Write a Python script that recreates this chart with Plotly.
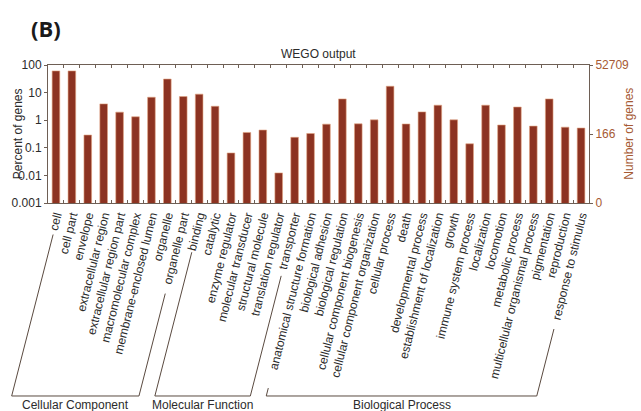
import math
import plotly.graph_objects as go

# GO term categories grouped by ontology
cc_terms = ["cell", "cell part", "envelope", "extracellular region",
            "extracellular region part", "macromolecular complex",
            "membrane-enclosed lumen", "organelle", "organelle part"]
mf_terms = ["binding", "catalytic", "enzyme regulator", "molecular transducer",
            "structural molecule", "translation regulator", "transporter"]
bp_terms = ["anatomical structure formation", "biological adhesion",
            "biological regulation", "cellular component biogenesis",
            "cellular component organization", "cellular process", "death",
            "developmental process", "establishment of localization", "growth",
            "immune system process", "localization", "locomotion",
            "metabolic process", "multicellular organismal process",
            "pigmentation", "reproduction", "response to stimulus"]

# Percent of genes per term
cc_pct = [61, 61, 0.29, 3.9, 1.96, 1.33, 6.8, 31, 7.2]
mf_pct = [8.8, 3.2, 0.065, 0.36, 0.44, 0.0123, 0.24]
bp_pct = [0.33, 0.72, 5.9, 0.74, 1.03, 17, 0.73, 2.0, 3.5, 1.03,
          0.14, 3.5, 0.67, 3.0, 0.61, 5.9, 0.56, 0.52]

group_names = ["Cellular Component", "Molecular Function", "Biological Process"]
total_genes = 52709
right_ticks = [total_genes, 166, 0]

categories = cc_terms + mf_terms + bp_terms
percents = cc_pct + mf_pct + bp_pct

W, H = 641, 411
ML, MR, MT, MB = 48, 48, 65, 208
PW = W - ML - MR
PH = H - MT - MB

bar_color = "#8c3322"
frame = "#6e5f55"
brown = "#a65a34"
txt = "#2b2b2b"
font_fam = "Arial, Liberation Sans, sans-serif"

fig = go.Figure()
fig.add_trace(go.Bar(
    x=categories, y=percents, width=0.48,
    marker=dict(color=bar_color, line=dict(color="#e2a482", width=0.6)),
    showlegend=False,
))
# invisible trace to activate the right-hand axis
fig.add_trace(go.Scatter(x=[categories[0]], y=[None], yaxis="y2",
                         showlegend=False, hoverinfo="skip"))

# right axis shows gene counts at the same log positions as the percentages
right_pos = [100.0 * v / total_genes if v > 0 else 0.001 for v in right_ticks]

fig.update_layout(
    width=W, height=H,
    margin=dict(l=ML, r=MR, t=MT, b=MB, pad=0),
    paper_bgcolor="white", plot_bgcolor="white",
    font=dict(family=font_fam, size=11, color=txt),
    bargap=0.5,
    xaxis=dict(
        type="category", tickangle=-76, tickson="boundaries",
        ticks="inside", ticklen=3, tickcolor=frame,
        showline=True, linecolor=frame, linewidth=1, mirror="ticks",
        showgrid=False, tickfont=dict(size=12, color=txt),
        range=[-0.5, len(categories) - 0.5],
    ),
    yaxis=dict(
        type="log", range=[-3, 2],
        tickvals=[100, 10, 1, 0.1, 0.01, 0.001],
        ticktext=["100", "10", "1", "0.1", "0.01", "0.001"],
        ticks="outside", ticklen=3, tickcolor=frame,
        showline=True, linecolor=frame, linewidth=1, mirror=True,
        showgrid=False, zeroline=False,
        tickfont=dict(size=12, color=txt),
    ),
    yaxis2=dict(
        type="log", range=[-3, 2], overlaying="y", side="right",
        tickvals=right_pos, ticktext=[str(v) for v in right_ticks],
        ticks="outside", ticklen=3, tickcolor=frame,
        showline=False, showgrid=False, zeroline=False,
        tickfont=dict(size=12, color=brown),
    ),
)

def to_paper(px, py):
    return (px - ML) / PW, (H - MB - py) / PH

def note(text, px, py, size=12, color=txt, angle=0, family=None):
    x, y = to_paper(px, py)
    f = dict(size=size, color=color)
    if family:
        f["family"] = family
    return dict(text=text, x=x, y=y, xref="paper", yref="paper",
                xanchor="center", yanchor="middle", showarrow=False,
                textangle=angle, font=f)

annotations = [
    note("<b>(B)</b>", 46, 28, size=22, color="#1a1a1a",
         family="Open Sans, sans-serif"),
    note("WEGO output", 320, 54),
    note("Percent of genes", 18, 134, angle=-90),
    note("Number of genes", 633, 134, color=brown, angle=-90),
]

# group brackets: slanted legs continue the direction of the rotated labels
step = PW / len(categories)
ang = math.radians(75.5)
base_y = 396.0

def label_end(i):
    tx = ML + (i + 0.5) * step + 4
    ln = 6.1 * len(categories[i]) + 3
    return tx - ln * math.cos(ang), 208 + ln * math.sin(ang)

def leg_foot(p):
    return p[0] - (base_y - p[1]) / math.tan(ang), base_y

shapes = []
start = 0
for name, terms in zip(group_names, [cc_terms, mf_terms, bp_terms]):
    a, b = start, start + len(terms) - 1
    start += len(terms)
    p1 = label_end(a)
    p2 = leg_foot(p1)
    p4 = label_end(b)
    p3 = leg_foot(p4)
    pts = [to_paper(*p) for p in (p1, p2, p3, p4)]
    path = "M " + " L ".join(f"{x:.5f},{y:.5f}" for x, y in pts)
    shapes.append(dict(type="path", path=path, xref="paper", yref="paper",
                       line=dict(color="#5a4a40", width=1)))
    annotations.append(note(name, (p2[0] + p3[0]) / 2, 405))

fig.update_layout(annotations=annotations, shapes=shapes)
fig.write_html("out.html")
